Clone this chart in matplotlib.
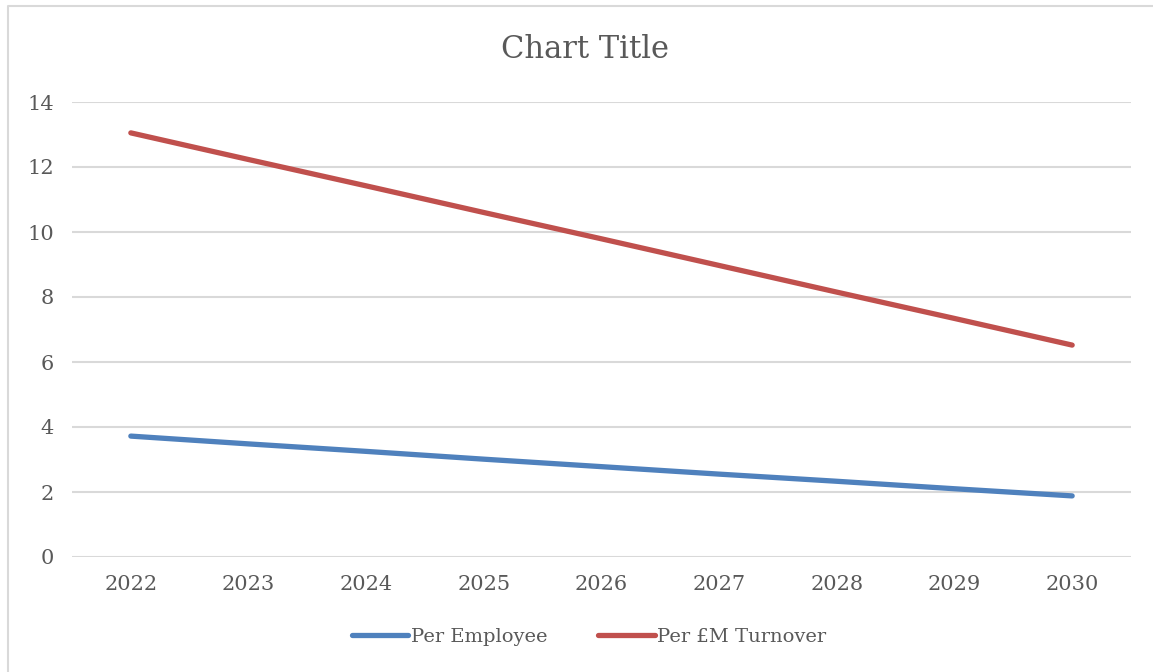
import matplotlib
matplotlib.use('Agg')
import matplotlib.pyplot as plt
from matplotlib.lines import Line2D

years = ['2022', '2023', '2024', '2025', '2026', '2027', '2028', '2029', '2030']
per_employee = [3.72, 3.48, 3.25, 3.01, 2.78, 2.55, 2.33, 2.10, 1.88]
per_turnover = [13.05, 12.23, 11.42, 10.60, 9.79, 8.97, 8.15, 7.34, 6.52]

plt.rcParams['font.family'] = ['DejaVu Serif']
txt = '#595959'
grid = '#D9D9D9'

fig = plt.figure(figsize=(11.53, 6.72), dpi=100)
ax = fig.add_axes([72/1153, 1 - 557/672, (1131 - 72)/1153, (557 - 102)/672])

x = range(len(years))
ax.plot(x, per_employee, color='#4F81BD', lw=3.8, solid_capstyle='round', label='Per Employee')
ax.plot(x, per_turnover, color='#C0504D', lw=3.8, solid_capstyle='round', label='Per £M Turnover')

ax.set_xlim(-0.5, len(years) - 0.5)
ax.set_ylim(0, 14)
ax.set_yticks(range(0, 15, 2))
ax.set_xticks(list(x))
ax.set_xticklabels(years)
ax.tick_params(length=0, labelsize=15, colors=txt, pad=13)
ax.yaxis.grid(True, color=grid, lw=1.5)
ax.set_axisbelow(True)
for s in ax.spines.values():
    s.set_visible(False)

fig.text(0.507, 1 - 49/672, 'Chart Title', ha='center', va='center', fontsize=22, color=txt)

fig.legend(loc='center', bbox_to_anchor=(0.511, 1 - 637/672), ncol=2, frameon=False,
           fontsize=14, labelcolor=txt, handlelength=2.9, handletextpad=0.15, columnspacing=2.6)

# outer chart border (only top and left visible in the crop)
fig.lines.append(Line2D([7.5/1153, 7.5/1153, 1], [0, 1 - 5.5/672, 1 - 5.5/672],
                        transform=fig.transFigure, color=grid, lw=1.5))

fig.savefig('out.png', dpi=100)
